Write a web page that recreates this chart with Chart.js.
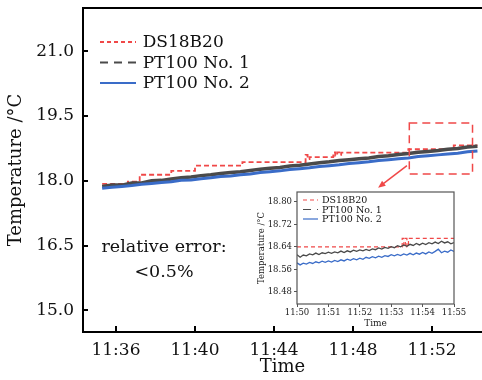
<!DOCTYPE html>
<html>
<head>
<meta charset="utf-8">
<script src="https://cdn.jsdelivr.net/npm/chart.js@4"></script>
<style>
  body { margin: 0; background: #fff; }
  #wrap { position: relative; width: 482px; height: 380px; }
  #main { position: absolute; left: 0; top: 0; }
  #inset { position: absolute; left: 250px; top: 186px; }
</style>
</head>
<body>
<div id="wrap">
  <canvas id="main" width="482" height="380"></canvas>
  <canvas id="inset" width="226" height="146"></canvas>
</div>
<script>
// minutes after 11:00
const MAIN_TIME = [35.3, 35.8, 36.3, 36.8, 37.3, 37.8, 38.3, 38.8, 39.3, 39.8,
  40.3, 40.8, 41.3, 41.8, 42.3, 42.8, 43.3, 43.8, 44.3, 44.8,
  45.3, 45.8, 46.3, 46.8, 47.3, 47.8, 48.3, 48.8, 49.3, 49.8,
  50.3, 50.8, 51.3, 51.8, 52.3, 52.8, 53.3, 53.8, 54.3];
const PT1_MAIN = [17.87, 17.90, 17.90, 17.95, 17.95, 18.00, 18.01, 18.04, 18.07, 18.09,
  18.12, 18.14, 18.17, 18.19, 18.21, 18.24, 18.27, 18.29, 18.31, 18.34,
  18.36, 18.39, 18.42, 18.44, 18.47, 18.49, 18.51, 18.53, 18.56, 18.58,
  18.61, 18.63, 18.66, 18.68, 18.70, 18.73, 18.75, 18.78, 18.80];
const PT2_MAIN = [17.83, 17.85, 17.87, 17.89, 17.92, 17.94, 17.96, 17.98, 18.01, 18.02,
  18.05, 18.07, 18.10, 18.11, 18.14, 18.16, 18.19, 18.21, 18.23, 18.26,
  18.28, 18.30, 18.33, 18.35, 18.37, 18.40, 18.42, 18.44, 18.47, 18.49,
  18.51, 18.53, 18.56, 18.58, 18.60, 18.62, 18.64, 18.67, 18.69];
// DS18B20 reads in steps: time where each level starts
const DS_TIME = [35.3, 36.6, 37.2, 38.8, 40.0, 42.4, 45.6, 45.7, 45.8, 47.0, 47.1, 47.2, 47.3, 47.4, 50.8, 53.1, 54.3];
const DS_TEMP = [17.93, 17.98, 18.14, 18.23, 18.35, 18.43, 18.60, 18.50, 18.55, 18.66, 18.58, 18.66, 18.60, 18.65, 18.73, 18.82, 18.82];

const X_TICKS = [36, 40, 44, 48, 52];
const Y_TICKS = [15.0, 16.5, 18.0, 19.5, 21.0];

// zoomed window 11:50 - 11:55
const INSET_TIME = [50.0, 50.1, 50.2, 50.3, 50.4, 50.5, 50.6, 50.7, 50.8, 50.9,
  51.0, 51.1, 51.2, 51.3, 51.4, 51.5, 51.6, 51.7, 51.8, 51.9,
  52.0, 52.1, 52.2, 52.3, 52.4, 52.5, 52.6, 52.7, 52.8, 52.9,
  53.0, 53.1, 53.2, 53.3, 53.4, 53.5, 53.6, 53.7, 53.8, 53.9,
  54.0, 54.1, 54.2, 54.3, 54.4, 54.5, 54.6, 54.7, 54.8, 54.9, 55.0];
const PT1_INSET = [18.612, 18.603, 18.611, 18.608, 18.615, 18.612, 18.618, 18.613, 18.619, 18.616,
  18.621, 18.617, 18.622, 18.619, 18.625, 18.620, 18.626, 18.622, 18.628, 18.624,
  18.629, 18.626, 18.631, 18.627, 18.633, 18.630, 18.636, 18.632, 18.638, 18.635,
  18.641, 18.637, 18.644, 18.640, 18.647, 18.642, 18.649, 18.645, 18.652, 18.647,
  18.653, 18.648, 18.655, 18.651, 18.657, 18.652, 18.660, 18.654, 18.658, 18.651, 18.655];
const PT2_INSET = [18.583, 18.576, 18.582, 18.579, 18.585, 18.581, 18.587, 18.583, 18.589, 18.585,
  18.590, 18.586, 18.592, 18.588, 18.594, 18.590, 18.596, 18.592, 18.598, 18.594,
  18.600, 18.596, 18.603, 18.599, 18.605, 18.601, 18.607, 18.603, 18.609, 18.606,
  18.612, 18.608, 18.613, 18.609, 18.615, 18.611, 18.617, 18.612, 18.618, 18.614,
  18.620, 18.615, 18.622, 18.617, 18.624, 18.632, 18.619, 18.625, 18.621, 18.629, 18.624];
const DS_INSET_TIME = [50.0, 53.35, 53.4, 53.45, 53.5, 53.55, 55.0];
const DS_INSET_TEMP = [18.64, 18.67, 18.64, 18.67, 18.64, 18.67, 18.67];

const INSET_X_TICKS = [50, 51, 52, 53, 54, 55];
const INSET_Y_TICKS = [18.48, 18.56, 18.64, 18.72, 18.80];

const LABELS = ['DS18B20', 'PT100 No. 1', 'PT100 No. 2'];

const serif = "'DejaVu Serif', serif";
const RED = '#f04848', GREY = '#4a4a4a', BLUE = '#3a6cc8';
const DASHES = [[4, 3], [8, 6], []];
const COLORS = [RED, GREY, BLUE];

// zoom box and pointer, in data units of the main chart
const ZOOM_BOX = { x0: 50.85, x1: 54.05, y0: 18.16, y1: 19.34 };
const POINTER = { x0: 50.73, y0: 18.35, x1: 49.27, y1: 17.84 };

const pts = (xs, ys) => xs.map((x, i) => ({ x: x, y: ys[i] }));
const clock = v => '11:' + String(Math.round(v)).padStart(2, '0');

// scales get fixed sizes so the plot box lands where it should
function fixWidth(w) {
  return s => { s.width = w; s.paddingTop = 0; s.paddingBottom = 0; };
}
function fixHeight(h) {
  return s => { s.height = h; s.paddingLeft = 0; s.paddingRight = 0; };
}

function drawLegend(ctx, x, y, gap, len, font, lw) {
  ctx.font = font;
  ctx.textBaseline = 'middle';
  ctx.textAlign = 'left';
  LABELS.forEach((lab, i) => {
    const yy = y + i * gap;
    ctx.strokeStyle = COLORS[i];
    ctx.lineWidth = lw;
    ctx.setLineDash(DASHES[i]);
    ctx.beginPath();
    ctx.moveTo(x, yy);
    ctx.lineTo(x + len, yy);
    ctx.stroke();
    ctx.setLineDash([]);
    ctx.fillStyle = '#111';
    ctx.fillText(lab, x + len + 6 * lw / 1.8, yy + 1);
  });
}

const mainDecor = {
  id: 'mainDecor',
  afterDraw(chart) {
    const { ctx, chartArea: a } = chart;
    const x = chart.scales.x, y = chart.scales.y;
    ctx.save();
    ctx.strokeStyle = '#000';
    ctx.lineWidth = 2;
    ctx.beginPath();
    ctx.moveTo(a.left - 1, a.top);
    ctx.lineTo(a.right, a.top);
    ctx.stroke();
    // ticks point inward
    ctx.beginPath();
    X_TICKS.forEach(v => {
      const px = Math.round(x.getPixelForValue(v));
      ctx.moveTo(px, a.bottom);
      ctx.lineTo(px, a.bottom - 6);
    });
    Y_TICKS.forEach(v => {
      const py = Math.round(y.getPixelForValue(v));
      ctx.moveTo(a.left, py);
      ctx.lineTo(a.left + 5, py);
    });
    ctx.stroke();

    drawLegend(ctx, 100, 42, 20.5, 36, '17px ' + serif, 2);

    ctx.fillStyle = '#111';
    ctx.font = '17.5px ' + serif;
    ctx.textAlign = 'center';
    ctx.textBaseline = 'middle';
    ctx.fillText('relative error:', x.getPixelForValue(38.43), y.getPixelForValue(16.45));
    ctx.fillText('<0.5%', x.getPixelForValue(38.43), y.getPixelForValue(15.87));

    // dashed box around the zoomed region
    const bx0 = x.getPixelForValue(ZOOM_BOX.x0), bx1 = x.getPixelForValue(ZOOM_BOX.x1);
    const by0 = y.getPixelForValue(ZOOM_BOX.y1), by1 = y.getPixelForValue(ZOOM_BOX.y0);
    ctx.strokeStyle = RED;
    ctx.lineWidth = 1.5;
    ctx.setLineDash([8, 5]);
    ctx.strokeRect(bx0, by0, bx1 - bx0, by1 - by0);
    ctx.setLineDash([]);

    // arrow to the inset
    const ax0 = x.getPixelForValue(POINTER.x0), ay0 = y.getPixelForValue(POINTER.y0);
    const ax1 = x.getPixelForValue(POINTER.x1), ay1 = y.getPixelForValue(POINTER.y1);
    const ang = Math.atan2(ay1 - ay0, ax1 - ax0);
    ctx.beginPath();
    ctx.moveTo(ax0, ay0);
    ctx.lineTo(ax1 - 5 * Math.cos(ang), ay1 - 5 * Math.sin(ang));
    ctx.stroke();
    ctx.fillStyle = RED;
    ctx.beginPath();
    ctx.moveTo(ax1, ay1);
    ctx.lineTo(ax1 - 8 * Math.cos(ang - 0.4), ay1 - 8 * Math.sin(ang - 0.4));
    ctx.lineTo(ax1 - 8 * Math.cos(ang + 0.4), ay1 - 8 * Math.sin(ang + 0.4));
    ctx.closePath();
    ctx.fill();
    ctx.restore();
  }
};

new Chart(document.getElementById('main'), {
  type: 'line',
  data: {
    datasets: [
      { label: LABELS[0], data: pts(DS_TIME, DS_TEMP), borderColor: RED, borderWidth: 1.8,
        borderDash: [5, 3], stepped: true, pointRadius: 0, order: 3 },
      { label: LABELS[1], data: pts(MAIN_TIME, PT1_MAIN), borderColor: GREY, borderWidth: 3.5,
        pointRadius: 0, tension: 0, order: 2 },
      { label: LABELS[2], data: pts(MAIN_TIME, PT2_MAIN), borderColor: BLUE, borderWidth: 3,
        pointRadius: 0, tension: 0, order: 1 }
    ]
  },
  options: {
    responsive: false,
    animation: false,
    layout: { padding: { top: 8, right: 0, left: 0, bottom: 0 } },
    plugins: { legend: { display: false }, tooltip: { enabled: false } },
    scales: {
      x: {
        type: 'linear', min: 34.33, max: 54.53,
        afterFit: fixHeight(48),
        afterBuildTicks: s => { s.ticks = X_TICKS.map(v => ({ value: v })); },
        grid: { display: false, drawTicks: false },
        border: { display: true, color: '#000', width: 2 },
        ticks: { font: { family: serif, size: 17 }, color: '#111', padding: 8,
          maxRotation: 0, autoSkip: false, callback: v => clock(v) },
        title: { display: true, text: 'Time', font: { family: serif, size: 18 }, color: '#111',
          padding: { top: 0, bottom: 2 } }
      },
      y: {
        min: 14.5, max: 22.0,
        afterFit: fixWidth(83),
        afterBuildTicks: s => { s.ticks = Y_TICKS.map(v => ({ value: v })); },
        grid: { display: false, drawTicks: false },
        border: { display: true, color: '#000', width: 2 },
        ticks: { font: { family: serif, size: 17 }, color: '#111', padding: 9,
          autoSkip: false, callback: v => v.toFixed(1) },
        title: { display: true, text: 'Temperature /°C', font: { family: serif, size: 18 }, color: '#111',
          padding: { top: 6, bottom: 0 } }
      }
    }
  },
  plugins: [mainDecor]
});

const insetDecor = {
  id: 'insetDecor',
  beforeDraw(chart) {
    const { ctx, chartArea: a } = chart;
    ctx.save();
    ctx.fillStyle = '#fff';
    ctx.fillRect(a.left, a.top, a.right - a.left, a.bottom - a.top);
    ctx.restore();
  },
  afterDraw(chart) {
    const { ctx, chartArea: a } = chart;
    ctx.save();
    ctx.strokeStyle = '#555';
    ctx.lineWidth = 1.2;
    ctx.strokeRect(a.left, a.top, a.right - a.left, a.bottom - a.top);
    drawLegend(ctx, a.left + 6, a.top + 8, 9.5, 15, '9.5px ' + serif, 1.2);
    ctx.restore();
  }
};

new Chart(document.getElementById('inset'), {
  type: 'line',
  data: {
    datasets: [
      { label: LABELS[0], data: pts(DS_INSET_TIME, DS_INSET_TEMP), borderColor: RED, borderWidth: 1.2,
        borderDash: [4, 3], stepped: true, pointRadius: 0, order: 3 },
      { label: LABELS[1], data: pts(INSET_TIME, PT1_INSET), borderColor: GREY, borderWidth: 1.3,
        pointRadius: 0, tension: 0, order: 2 },
      { label: LABELS[2], data: pts(INSET_TIME, PT2_INSET), borderColor: BLUE, borderWidth: 1.3,
        pointRadius: 0, tension: 0, order: 1 }
    ]
  },
  options: {
    responsive: false,
    animation: false,
    layout: { padding: { top: 6, right: 22, left: 0, bottom: 0 } },
    plugins: { legend: { display: false }, tooltip: { enabled: false } },
    scales: {
      x: {
        type: 'linear', min: 50, max: 55,
        afterFit: fixHeight(28),
        afterBuildTicks: s => { s.ticks = INSET_X_TICKS.map(v => ({ value: v })); },
        grid: { display: true, drawOnChartArea: false, drawTicks: true, tickLength: 3, color: '#555' },
        border: { display: false },
        ticks: { font: { family: serif, size: 8.5 }, color: '#222', padding: 1,
          maxRotation: 0, autoSkip: false, callback: v => clock(v) },
        title: { display: true, text: 'Time', font: { family: serif, size: 9 }, color: '#222',
          padding: { top: 0, bottom: 2.6 } }
      },
      y: {
        min: 18.437, max: 18.835,
        afterFit: fixWidth(47),
        afterBuildTicks: s => { s.ticks = INSET_Y_TICKS.map(v => ({ value: v })); },
        grid: { display: true, drawOnChartArea: false, drawTicks: true, tickLength: 3, color: '#555' },
        border: { display: false },
        ticks: { font: { family: serif, size: 8.5 }, color: '#222', padding: 2,
          autoSkip: false, callback: v => v.toFixed(2) },
        title: { display: true, text: 'Temperature /°C', font: { family: serif, size: 8.5 }, color: '#222',
          padding: { top: 7, bottom: 0 } }
      }
    }
  },
  plugins: [insetDecor]
});
</script>
</body>
</html>
